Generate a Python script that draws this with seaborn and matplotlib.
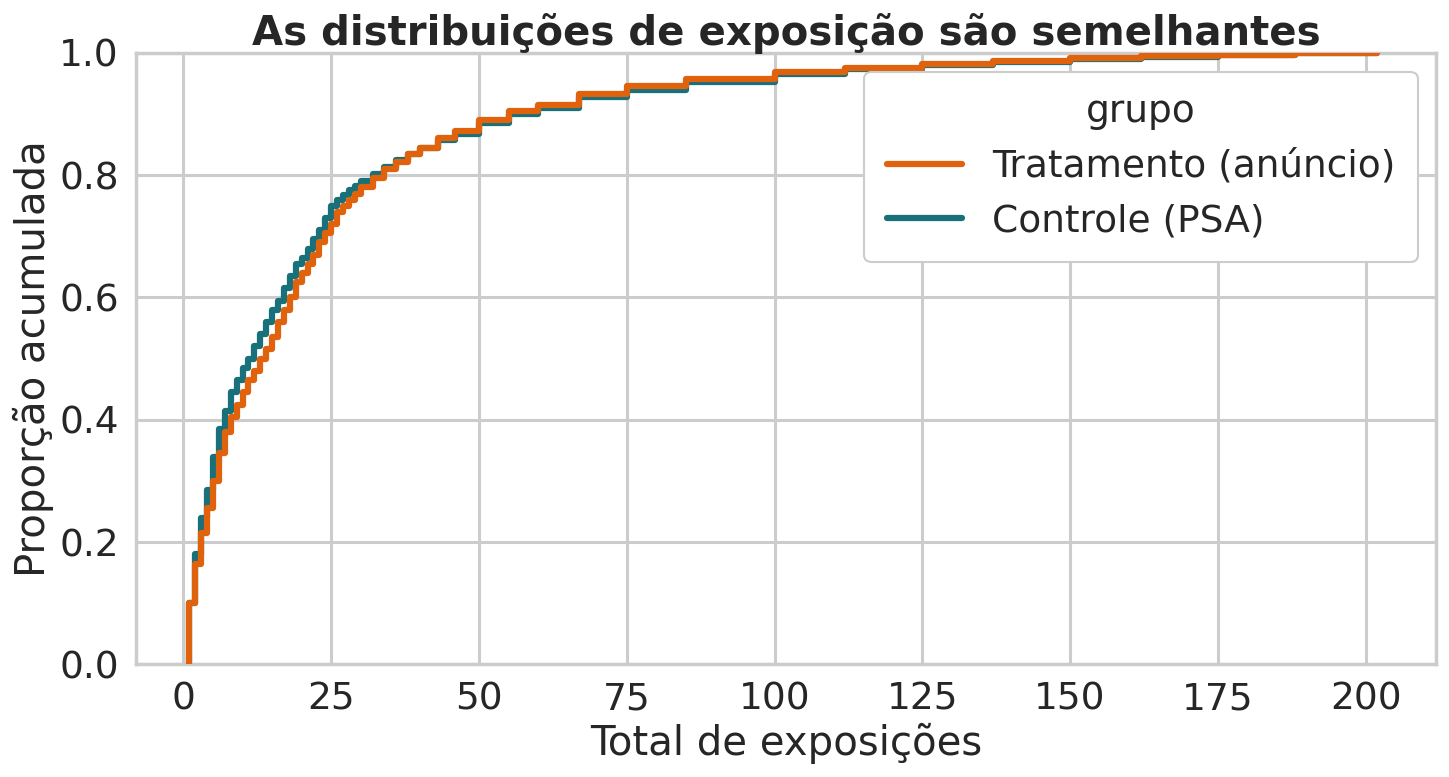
import matplotlib
matplotlib.use("Agg")
import matplotlib.pyplot as plt
import numpy as np
import pandas as pd
import seaborn as sns

# step points of the ECDF
x_trat = [0.999, 1, 2, 3, 4, 5, 6, 7, 8, 9, 10, 11, 12, 13, 14, 15, 16, 17, 18, 19, 20,
          21, 22, 23, 24, 25, 26, 27, 28, 29, 30, 32, 34, 36, 38, 40, 43, 46, 50, 55,
          60, 67, 75, 85, 100, 112, 125, 137, 150, 162, 175, 188, 202]
y_trat = [0.0, 0.10, 0.165, 0.215, 0.255, 0.30, 0.345, 0.38, 0.405, 0.425, 0.445, 0.465,
          0.48, 0.50, 0.515, 0.535, 0.56, 0.58, 0.60, 0.625, 0.64, 0.655, 0.67, 0.69,
          0.705, 0.72, 0.74, 0.75, 0.76, 0.77, 0.78, 0.795, 0.81, 0.822, 0.835, 0.845,
          0.86, 0.872, 0.89, 0.905, 0.915, 0.932, 0.945, 0.957, 0.968, 0.976, 0.982,
          0.987, 0.992, 0.995, 0.997, 0.999, 1.0]
x_ctrl = [0.999, 1, 2, 3, 4, 5, 6, 7, 8, 9, 10, 11, 12, 13, 14, 15, 16, 17, 18, 19, 20,
          21, 22, 23, 24, 25, 26, 27, 28, 29, 30, 32, 34, 36, 38, 40, 43, 46, 50, 55,
          60, 67, 75, 85, 100, 112, 125, 137, 150, 162, 175, 188, 202]
y_ctrl = [0.0, 0.10, 0.18, 0.24, 0.285, 0.34, 0.385, 0.415, 0.445, 0.465, 0.485, 0.50,
          0.52, 0.54, 0.56, 0.58, 0.595, 0.615, 0.635, 0.655, 0.665, 0.68, 0.695, 0.71,
          0.73, 0.75, 0.76, 0.768, 0.775, 0.783, 0.79, 0.802, 0.813, 0.824, 0.835, 0.845,
          0.857, 0.868, 0.885, 0.9, 0.91, 0.927, 0.94, 0.953, 0.965, 0.973, 0.98,
          0.985, 0.99, 0.994, 0.997, 0.999, 1.0]
grupos = ["Tratamento (anúncio)", "Controle (PSA)"]
cores = ["#e0620d", "#17707a"]

sns.set_theme(style="whitegrid", context="talk",
              rc={"grid.linewidth": 2.2, "axes.linewidth": 2.5})
fig, ax = plt.subplots(figsize=(14.49, 7.77), dpi=100)

df_c = pd.DataFrame({"x": x_ctrl, "y": y_ctrl})
df_t = pd.DataFrame({"x": x_trat, "y": y_trat})
sns.lineplot(data=df_c, x="x", y="y", ax=ax, color=cores[1], lw=4.5, estimator=None,
             drawstyle="steps-post", label=grupos[1], zorder=2)
sns.lineplot(data=df_t, x="x", y="y", ax=ax, color=cores[0], lw=4.5, estimator=None,
             drawstyle="steps-post", label=grupos[0], zorder=3)

h, l = ax.get_legend_handles_labels()
ax.legend(h[::-1], l[::-1], title="grupo", loc="upper right", fontsize=27,
          title_fontsize=27, borderpad=0.6, framealpha=1)

ax.set_xlim(-8, 212)
ax.set_ylim(0, 1)
ax.set_xticks(np.arange(0, 201, 25))
ax.tick_params(labelsize=27)
ax.set_xlabel("Total de exposições", fontsize=29)
ax.set_ylabel("Proporção acumulada", fontsize=29)
ax.set_title("As distribuições de exposição são semelhantes", fontsize=29,
             fontweight="bold", pad=6)
plt.tight_layout(pad=0.5)
fig.savefig("out.png", dpi=100)
